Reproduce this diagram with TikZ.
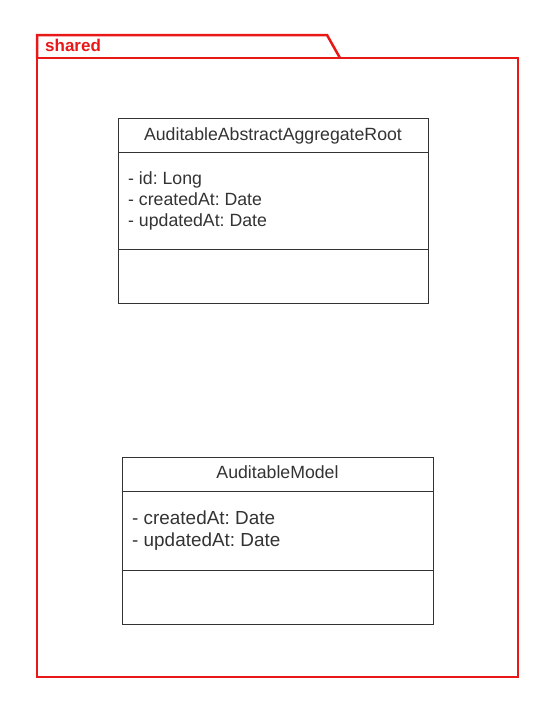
\documentclass[tikz,border=0pt]{standalone}
\usepackage{fontspec}
\setmainfont{Liberation Sans}
\frenchspacing
\definecolor{pkgred}{RGB}{232,24,24}
\definecolor{ink}{RGB}{51,51,51}
\begin{document}
\begin{tikzpicture}[x=1pt,y=-1pt,
  pkgline/.style={draw=pkgred, line width=2.5pt, line join=miter},
  classbox/.style={draw=ink, line width=1pt, anchor=north west, inner sep=0pt, outer sep=0pt},
  divider/.style={draw=ink, line width=1pt},
  ctitle/.style={text=ink, anchor=base, inner sep=0pt, font=\fontsize{17.7}{21}\selectfont},
  attr/.style={text=ink, anchor=base west, inner sep=0pt, font=\fontsize{17.7}{21}\selectfont},
  attrbig/.style={attr, font=\fontsize{18.9}{22}\selectfont},
  pkgname/.style={text=pkgred, anchor=base west, inner sep=0pt, font=\bfseries\fontsize{17}{20}\selectfont}
]
\useasboundingbox (0,0) rectangle (556,713);
% package
\node[pkgline, anchor=north west, inner sep=0pt, outer sep=0pt, minimum width=481pt, minimum height=619pt] (pkg) at (37,58) {};
\coordinate (tabA) at (37,35);
\coordinate (tabB) at (327,35);
\coordinate (tabC) at (340,58);
\draw[pkgline] (pkg.north west) -- (tabA) -- (tabB) -- (tabC);
\node[pkgname] (pkgtitle) at (45,51) {shared};
% class 1
\node[classbox, minimum width=310pt, minimum height=185pt] (c1) at (118,118) {};
\draw[divider] (c1.west |- 0,152) -- (c1.east |- 0,152);
\draw[divider] (c1.west |- 0,249) -- (c1.east |- 0,249);
\node[ctitle] (c1t) at (273,140) {AuditableAbstractAggregateRoot};
\node[attr] (c1a1) at (128,184) {- id: Long};
\node[attr] (c1a2) at (128,205) {- createdAt: Date};
\node[attr] (c1a3) at (128,226) {- updatedAt: Date};
% class 2
\node[classbox, minimum width=311pt, minimum height=167pt] (c2) at (122,457) {};
\draw[divider] (c2.west |- 0,491) -- (c2.east |- 0,491);
\draw[divider] (c2.west |- 0,570) -- (c2.east |- 0,570);
\node[ctitle] (c2t) at (277.5,478) {AuditableModel};
\node[attrbig] (c2a1) at (132,524) {- createdAt: Date};
\node[attrbig] (c2a2) at (132,546) {- updatedAt: Date};
\end{tikzpicture}
\end{document}
